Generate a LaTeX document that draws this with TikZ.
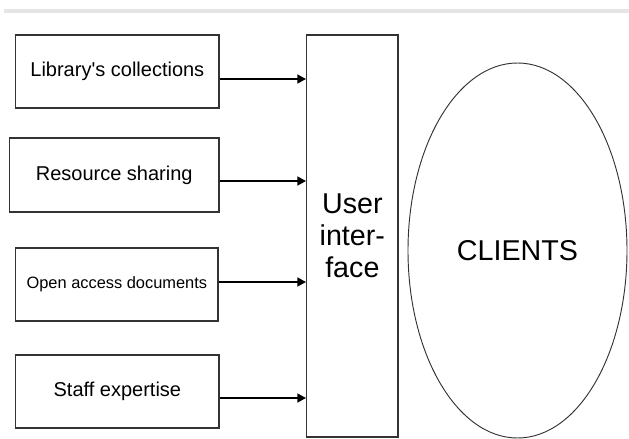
\documentclass[tikz,border=0pt]{standalone}
\usepackage{fontspec}
\setmainfont{Liberation Sans}[Ligatures=TeXOff]
\usetikzlibrary{arrows.meta,shapes.geometric}
\begin{document}
\begin{tikzpicture}[x=0.75pt,y=-0.75pt,
  src/.style={draw=black!80,line width=0.9pt,inner sep=0pt,font=\fontsize{15}{18}\selectfont},
  arr/.style={line width=1.8pt,-{Triangle[length=6.5pt,width=6.5pt]}},
  box/.style={draw=black!80,line width=0.9pt,inner sep=0pt}]
\useasboundingbox (0,0) rectangle (629,439);
\fill[black!10] (4,9) rectangle (629,13);
\node[src,minimum width=203.3*0.75pt,minimum height=73*0.75pt] (b1) at (117.35,71.5) {Library's collections};
\node[src,minimum width=209.5*0.75pt,minimum height=74*0.75pt] (b2) at (114.25,175) {Resource sharing};
\node[src,minimum width=202.3*0.75pt,minimum height=73*0.75pt,font=\fontsize{12.3}{15}\selectfont] (b3) at (116.85,284.5) {Open access documents};
\node[src,minimum width=203.3*0.75pt,minimum height=73*0.75pt] (b4) at (117.35,391.5) {Staff expertise};
\node[box,minimum width=91.3*0.75pt,minimum height=402*0.75pt,align=center,font=\fontsize{21.5}{24}\selectfont] (ui) at (352.35,236) {User\\inter-\\face};
\node[ellipse,draw=black!80,line width=0.7pt,minimum width=219*0.75pt,minimum height=375*0.75pt,inner sep=0pt,font=\fontsize{21.5}{24}\selectfont] (cl) at (517.5,250.5) {CLIENTS};
\draw[arr] (b1.east |- 0,79) -- (ui.west |- 0,79);
\draw[arr] (b2.east |- 0,181) -- (ui.west |- 0,181);
\draw[arr] (b3.east |- 0,282) -- (ui.west |- 0,282);
\draw[arr] (b4.east |- 0,398) -- (ui.west |- 0,398);
\end{tikzpicture}
\end{document}
